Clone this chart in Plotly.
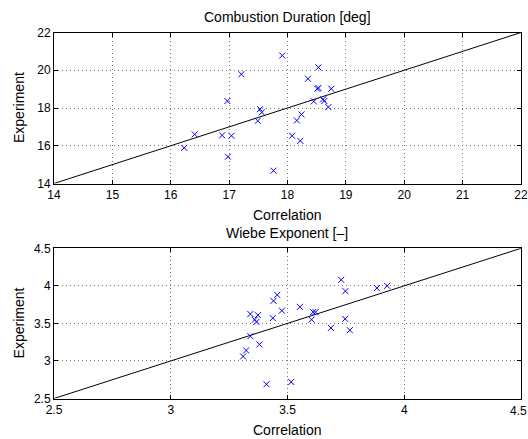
import plotly.graph_objects as go

# Combustion duration [deg]
comb_corr = [16.23, 16.41, 16.88, 17.04, 16.97, 16.98, 17.21, 17.53, 17.56, 17.49, 17.76, 17.91,
             18.53, 18.35, 18.51, 18.53, 18.75, 18.45, 18.61, 18.63, 18.70, 18.24, 18.16, 18.08, 18.22]
comb_exp = [15.89, 16.60, 16.55, 16.53, 18.37, 15.42, 19.79, 17.94, 17.77, 17.32, 14.68, 20.78,
            20.15, 19.55, 19.02, 19.06, 19.02, 18.35, 18.46, 18.37, 18.05, 17.66, 17.34, 16.53, 16.26]

# Wiebe exponent [-]
wiebe_corr = [3.31, 3.323, 3.341, 3.341, 3.373, 3.36, 3.367, 3.38, 3.41, 3.437, 3.44, 3.456, 3.476,
              3.553, 3.516, 3.603, 3.61, 3.62, 3.686, 3.73, 3.748, 3.747, 3.767, 3.883, 3.927]
wiebe_exp = [3.06, 3.14, 3.33, 3.625, 3.61, 3.55, 3.52, 3.22, 2.69, 3.57, 3.80, 3.88, 3.67,
             3.72, 2.72, 3.55, 3.65, 3.65, 3.44, 4.08, 3.93, 3.56, 3.41, 3.97, 4.00]

comb_range = [14, 22]
comb_ticks = [14, 15, 16, 17, 18, 19, 20, 21, 22]
comb_yticks = [14, 16, 18, 20, 22]
wiebe_range = [2.5, 4.5]
wiebe_ticks = [2.5, 3, 3.5, 4, 4.5]
wiebe_ticklabels = ["2.5", "3", "3.5", "4", "4.5"]

titles = ["Combustion Duration [deg]", "Wiebe Exponent [\u2013]"]
xlabel = "Correlation"
ylabel = "Experiment"

W, H = 528, 439
FONT = "Liberation Sans, Arial, Helvetica, sans-serif"
TICK_SIZE = 12
LABEL_SIZE = 14

fig = go.Figure()
fig.add_trace(go.Scatter(x=comb_range, y=comb_range, mode="lines",
                         line=dict(color="black", width=1), xaxis="x", yaxis="y", showlegend=False))
fig.add_trace(go.Scatter(x=comb_corr, y=comb_exp, mode="markers",
                         marker=dict(symbol="x-thin", size=6, line=dict(color="#0000ff", width=1)),
                         xaxis="x", yaxis="y", showlegend=False))
fig.add_trace(go.Scatter(x=wiebe_range, y=wiebe_range, mode="lines",
                         line=dict(color="black", width=1), xaxis="x2", yaxis="y2", showlegend=False))
fig.add_trace(go.Scatter(x=wiebe_corr, y=wiebe_exp, mode="markers",
                         marker=dict(symbol="x-thin", size=6, line=dict(color="#0000ff", width=1)),
                         xaxis="x2", yaxis="y2", showlegend=False))

xd = [54 / W, 521 / W]
yd1 = [1 - 183.5 / H, 1 - 32.5 / H]
yd2 = [1 - 398.5 / H, 1 - 248.3 / H]

common = dict(showline=True, linecolor="black", linewidth=1, mirror="ticks",
              ticks="inside", ticklen=4, tickcolor="black", showgrid=True,
              gridcolor="#777777", griddash="1px,3px", gridwidth=1, zeroline=False,
              automargin=False,
              tickfont=dict(size=TICK_SIZE, color="black", family=FONT))

# x tick labels of the lower plot; last one drawn as annotation kept inside the page
wiebe_xticktext = wiebe_ticklabels[:-1] + [""]

xc = (xd[0] + xd[1]) / 2
ann = []
for dom, title in zip([yd1, yd2], titles):
    ann.append(dict(text=title, x=xc, y=dom[1], xref="paper", yref="paper",
                    xanchor="center", yanchor="middle", yshift=15.5, showarrow=False,
                    font=dict(size=LABEL_SIZE)))
    ann.append(dict(text=xlabel, x=xc, y=dom[0], xref="paper", yref="paper",
                    xanchor="center", yanchor="middle", yshift=-31, showarrow=False,
                    font=dict(size=LABEL_SIZE)))
    ann.append(dict(text=ylabel, x=19 / W, y=(dom[0] + dom[1]) / 2, xref="paper", yref="paper",
                    xanchor="center", yanchor="middle", textangle=-90, showarrow=False,
                    font=dict(size=LABEL_SIZE)))
ann.append(dict(text=wiebe_ticklabels[-1], x=1.0, y=yd2[0], xref="paper", yref="paper",
                xanchor="right", yanchor="top", yshift=-4, showarrow=False,
                font=dict(size=TICK_SIZE), borderpad=0))

fig.update_layout(
    width=W, height=H, margin=dict(l=0, r=0, t=0, b=0),
    paper_bgcolor="white", plot_bgcolor="white",
    font=dict(family=FONT, size=TICK_SIZE, color="black"),
    xaxis=dict(domain=xd, anchor="y", range=comb_range, tickvals=comb_ticks, **common),
    yaxis=dict(domain=yd1, anchor="x", range=comb_range, tickvals=comb_yticks, **common),
    xaxis2=dict(domain=xd, anchor="y2", range=wiebe_range, tickvals=wiebe_ticks,
                ticktext=wiebe_xticktext, **common),
    yaxis2=dict(domain=yd2, anchor="x2", range=wiebe_range, tickvals=wiebe_ticks,
                ticktext=wiebe_ticklabels, **common),
    annotations=ann,
)

fig.write_html("out.html")
